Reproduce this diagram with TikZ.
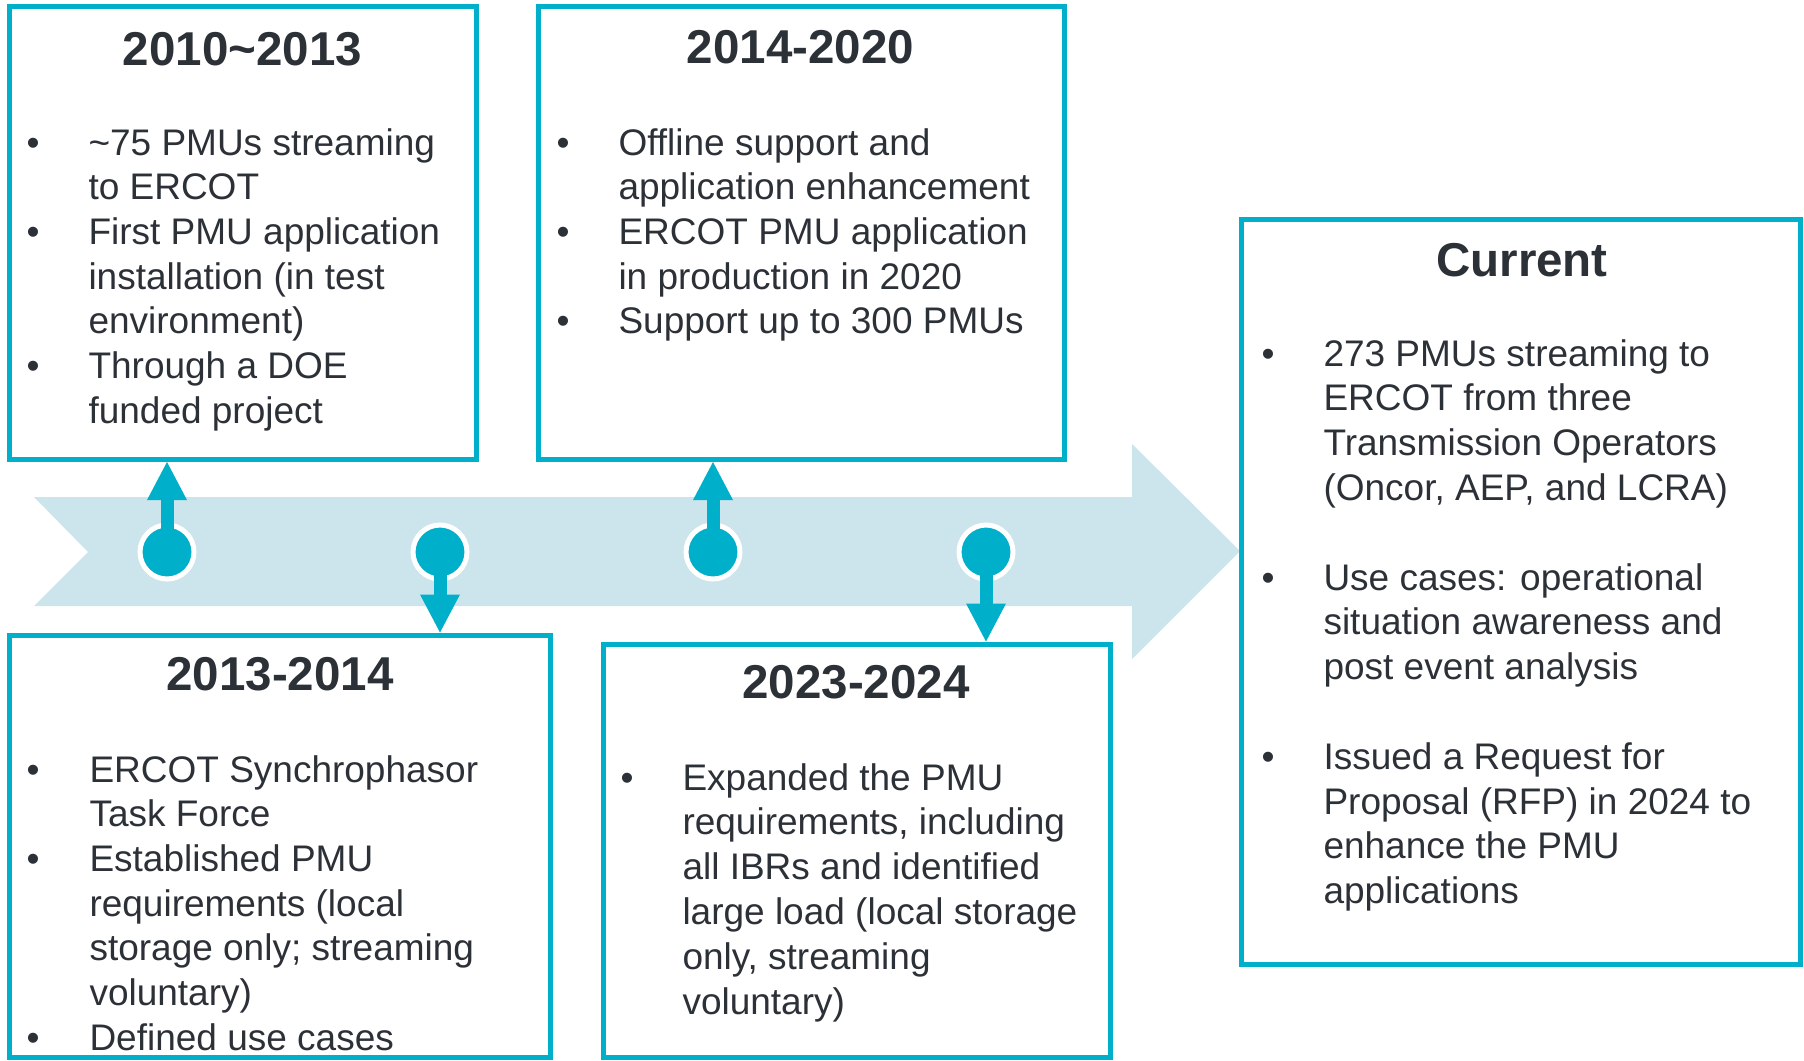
\documentclass[tikz,border=0pt]{standalone}
\usepackage{fontspec}
\setmainfont{Liberation Sans}
\usetikzlibrary{arrows.meta}
\definecolor{teal}{RGB}{0,176,202}
\definecolor{pale}{RGB}{204,228,235}
\definecolor{ink}{RGB}{44,48,55}
\newcommand\bodyfnt{\fontsize{14.8}{17.76}\selectfont}
\newcommand\titlefnt{\fontsize{19}{22}\selectfont\bfseries}
\tikzset{
  box/.style={draw=teal, line width=2pt, inner sep=0pt, rectangle},
  body/.style={anchor=base west, inner sep=0pt, text=ink, font=\bodyfnt},
  bul/.style={anchor=base, inner sep=0pt, text=ink, font=\bodyfnt},
  ttl/.style={anchor=base, inner sep=0pt, text=ink, font=\titlefnt},
  dot/.style={circle, fill=teal, draw=white, line width=2pt, minimum size=21.6pt, inner sep=0pt},
  conn/.style={draw=teal, line width=5.2pt, -{Triangle[length=15.2pt,width=16pt,line width=0pt]}}
}
\begin{document}
\begin{tikzpicture}[x=0.4pt,y=-0.4pt]
\useasboundingbox (0,0) rectangle (1804,1060);
% timeline arrow
\fill[pale] (34,497) -- (1132,497) -- (1132,444) -- (1240,551) -- (1132,659) -- (1132,606) -- (34,606) -- (88,552) -- cycle;
% boxes
\node[box, minimum width=186.8pt, minimum height=181.2pt] (b1) at (243,233) {};
\node[box, minimum width=210.4pt, minimum height=181.2pt] (b2) at (801.5,233) {};
\node[box, minimum width=216.2pt, minimum height=169pt] (b3) at (279.75,846.25) {};
\node[box, minimum width=202.8pt, minimum height=165.4pt] (b4) at (856.5,850.75) {};
\node[box, minimum width=223.6pt, minimum height=297.8pt] (b5) at (1520.5,591.75) {};
% dots
\node[dot] (d1) at (167,552) {};
\node[dot] (d2) at (440,552) {};
\node[dot] (d3) at (713,552) {};
\node[dot] (d4) at (986,552) {};
% connectors
\draw[conn] (d1.center) -- (d1.center |- b1.south);
\draw[conn] (d2.center) -- (d2.center |- b3.north);
\draw[conn] (d3.center) -- (d3.center |- b2.south);
\draw[conn] (d4.center) -- (d4.center |- b4.north);
% titles
\node[ttl] (t1) at (242.5,65) {2010\textasciitilde 2013};
\node[ttl] (t2) at (800.5,63) {2014-2020};
\node[ttl] (t3) at (280,690) {2013-2014};
\node[ttl] (t4) at (856,698) {2023-2024};
\node[ttl] (t5) at (1522,276) {Current};
% box 1
\foreach \k/\t in {0/{\textasciitilde 75 PMUs streaming},1/{to ERCOT},2/{First PMU application},3/{installation (in test},4/{environment)},5/{Through a DOE},6/{funded project}}
  \node[body] (b1-l\k) at (88,{155+44.7*\k}) {\t};
\foreach \k in {0,2,5}
  \node[bul] (b1-b\k) at (33,{155+44.7*\k}) {\textbullet};
% box 2
\foreach \k/\t in {0/{Offline support and},1/{application enhancement},2/{ERCOT PMU application},3/{in production in 2020},4/{Support up to 300 PMUs}}
  \node[body] (b2-l\k) at (618,{155+44.7*\k}) {\t};
\foreach \k in {0,2,4}
  \node[bul] (b2-b\k) at (563,{155+44.7*\k}) {\textbullet};
% box 3
\foreach \k/\t in {0/{ERCOT Synchrophasor},1/{Task Force},2/{Established PMU},3/{requirements (local},4/{storage only; streaming},5/{voluntary)},6/{Defined use cases}}
  \node[body] (b3-l\k) at (89,{782+44.7*\k}) {\t};
\foreach \k in {0,2,6}
  \node[bul] (b3-b\k) at (33,{782+44.7*\k}) {\textbullet};
% box 4
\foreach \k/\t in {0/{Expanded the PMU},1/{requirements, including},2/{all IBRs and identified},3/{large load (local storage},4/{only, streaming},5/{voluntary)}}
  \node[body] (b4-l\k) at (682,{790+44.8*\k}) {\t};
\node[bul] (b4-b0) at (627,790) {\textbullet};
% box 5
\foreach \k/\t in {0/{273 PMUs streaming to},1/{ERCOT from three},2/{Transmission Operators},3/{(Oncor, AEP, and LCRA)},5/{Use cases: operational},6/{situation awareness and},7/{post event analysis},9/{Issued a Request for},10/{Proposal (RFP) in 2024 to},11/{enhance the PMU},12/{applications}}
  \node[body] (b5-l\k) at (1323,{366+44.8*\k}) {\t};
\foreach \k in {0,5,9}
  \node[bul] (b5-b\k) at (1268,{366+44.8*\k}) {\textbullet};
\end{tikzpicture}
\end{document}
